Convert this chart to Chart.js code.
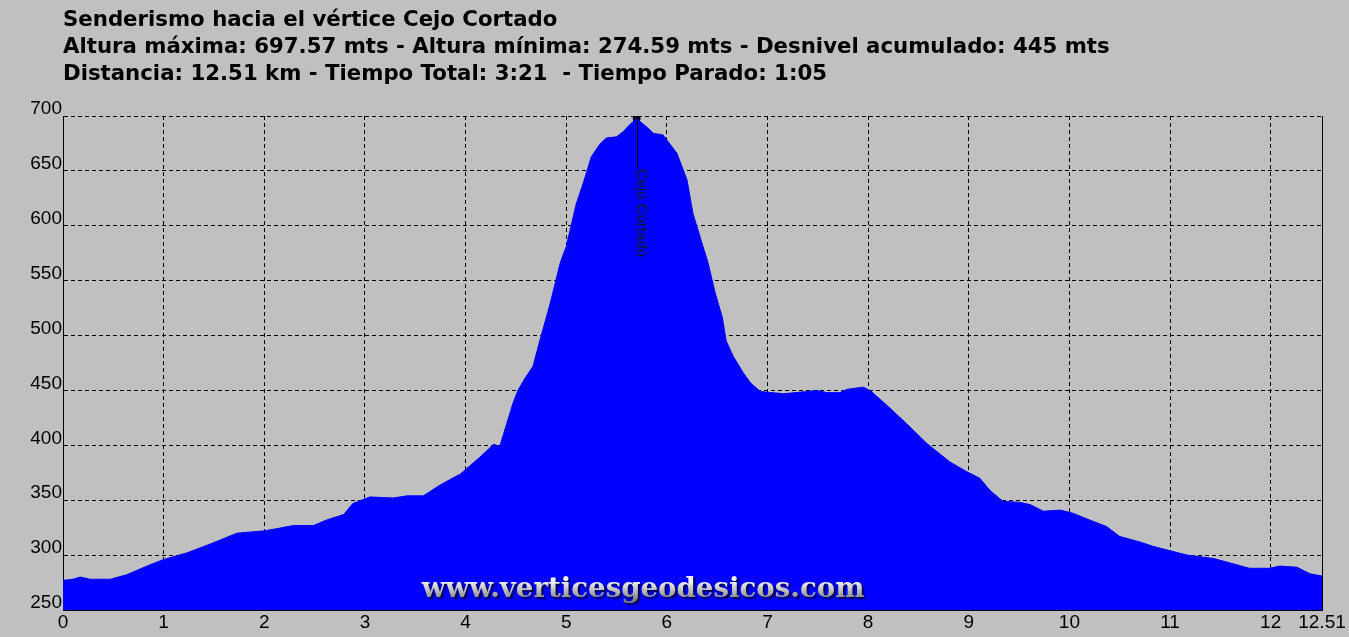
<!DOCTYPE html>
<html lang="es">
<head>
<meta charset="utf-8">
<title>Senderismo hacia el vértice Cejo Cortado</title>
<script src="https://cdn.jsdelivr.net/npm/chart.js"></script>
<style>
  html, body { margin: 0; padding: 0; background: #c0c0c0; overflow: hidden; }
  #perfil { display: block; }
</style>
</head>
<body>
<canvas id="perfil" width="1349" height="637"></canvas>
<script>
// Datos del perfil (distancia en km, altura en m)
const distancias = [
    0.00, 0.10, 0.17, 0.27, 0.47, 0.63, 0.86, 1.00, 1.23, 1.46,
    1.73, 1.99, 2.12, 2.29, 2.49, 2.62, 2.79, 2.88, 3.05, 3.28,
    3.42, 3.58, 3.75, 3.95, 4.14, 4.28, 4.34, 4.47, 4.52, 4.59,
    4.67, 4.74, 4.84, 4.94, 5.00, 5.10, 5.17, 5.25, 5.34, 5.40,
    5.50, 5.57, 5.63, 5.70, 5.80, 5.87, 5.96, 6.01, 6.10, 6.20,
    6.26, 6.33, 6.41, 6.48, 6.55, 6.59, 6.66, 6.76, 6.83, 6.93,
    7.16, 7.39, 7.49, 7.59, 7.72, 7.79, 7.95, 8.02, 8.18, 8.38,
    8.58, 8.81, 8.98, 9.11, 9.21, 9.34, 9.51, 9.61, 9.74, 9.91,
    10.04, 10.20, 10.37, 10.50, 10.70, 10.83, 11.00, 11.17, 11.43, 11.63,
    11.79, 11.99, 12.09, 12.26, 12.39, 12.51
];
const alturas = [
    277, 278, 280, 278, 278, 282, 291, 296, 302, 310,
    320, 322, 324, 327, 327, 332, 337, 347, 353, 352,
    354, 354, 364, 374, 389, 401, 399, 438, 450, 461,
    472, 496, 529, 566, 581, 620, 639, 663, 675, 680,
    681, 686, 692, 697.57, 690, 684, 683, 677, 666, 642,
    611, 590, 566, 539, 517, 495, 481, 466, 457, 449,
    447, 449, 450, 448, 448, 451, 453, 450, 437, 420,
    402, 385, 376, 370, 359, 349, 348, 346, 340, 341,
    338, 332, 326, 317, 312, 308, 304, 300, 297, 292,
    288, 288, 290, 289, 283, 281
];

// Marcas de los ejes
const ticksDistancia = [0, 1, 2, 3, 4, 5, 6, 7, 8, 9, 10, 11, 12, 12.51];
const ticksAltura = [250, 300, 350, 400, 450, 500, 550, 600, 650, 700];

// Cumbre marcada en el perfil
const cumbreNombre = 'Cejo Cortado';
const cumbreDistancia = 5.70;
const cumbreAltura = 697.57;

// Textos de cabecera y marca de agua
const lineasTitulo = [
    'Senderismo hacia el vértice Cejo Cortado',
    'Altura máxima: 697.57 mts - Altura mínima: 274.59 mts - Desnivel acumulado: 445 mts',
    'Distancia: 12.51 km - Tiempo Total: 3:21  - Tiempo Parado: 1:05'
];
const marcaAgua = 'www.verticesgeodesicos.com';

document.addEventListener('DOMContentLoaded', function() {
    const FUENTE_EJES = '"Liberation Sans", Arial, sans-serif';
    const FONDO = '#c0c0c0';
    const AZUL = '#0000ff';

    // Fondo, borde derecho, cumbre, cabecera y marca de agua
    const decoracion = {
        id: 'decoracion',
        beforeDraw(chart) {
            const ctx = chart.ctx;
            ctx.save();
            ctx.fillStyle = FONDO;
            ctx.fillRect(0, 0, chart.width, chart.height);
            ctx.restore();
        },
        afterDraw(chart) {
            const { ctx, chartArea: area, scales } = chart;
            ctx.save();

            // borde derecho continuo
            ctx.strokeStyle = '#000';
            ctx.lineWidth = 1;
            ctx.beginPath();
            ctx.moveTo(Math.round(area.right) + 0.5, area.top);
            ctx.lineTo(Math.round(area.right) + 0.5, area.bottom);
            ctx.stroke();

            // línea y rótulo vertical de la cumbre
            const cx = Math.round(scales.x.getPixelForValue(cumbreDistancia)) + 0.5;
            const cy = scales.y.getPixelForValue(cumbreAltura);
            ctx.beginPath();
            ctx.moveTo(cx, cy);
            ctx.lineTo(cx, cy + 50);
            ctx.stroke();
            ctx.save();
            ctx.translate(cx - 1, cy + 50);
            ctx.rotate(Math.PI / 2);
            ctx.fillStyle = '#1a1a1a';
            ctx.font = '15px ' + FUENTE_EJES;
            ctx.textAlign = 'left';
            ctx.textBaseline = 'alphabetic';
            ctx.fillText(cumbreNombre, 0, 0);
            ctx.restore();

            // cabecera en tres líneas, ajustada al ancho del original
            ctx.font = 'bold 20px "DejaVu Sans", Verdana, sans-serif';
            const escala = 1047 / ctx.measureText(lineasTitulo[1]).width;
            const tam = Math.min(22, 20 * escala);
            ctx.font = 'bold ' + tam.toFixed(2) + 'px "DejaVu Sans", Verdana, sans-serif';
            ctx.fillStyle = '#000';
            ctx.textAlign = 'left';
            ctx.textBaseline = 'alphabetic';
            lineasTitulo.forEach((linea, i) => {
                ctx.fillText(linea, area.left, 26 + i * 27);
            });

            // marca de agua plateada con sombra
            ctx.font = 'bold 24px "DejaVu Serif", Georgia, serif';
            const anchoMarca = ctx.measureText(marcaAgua).width;
            const tamMarca = 24 * 443 / anchoMarca;
            ctx.font = 'bold ' + tamMarca.toFixed(2) + 'px "DejaVu Serif", Georgia, serif';
            const grad = ctx.createLinearGradient(0, 582, 0, 600);
            grad.addColorStop(0, '#f0f0f0');
            grad.addColorStop(0.5, '#b8b8b8');
            grad.addColorStop(1, '#808080');
            ctx.fillStyle = grad;
            ctx.shadowColor = 'rgba(0, 0, 0, 0.75)';
            ctx.shadowOffsetX = 2;
            ctx.shadowOffsetY = 2;
            ctx.shadowBlur = 2;
            ctx.textAlign = 'center';
            ctx.fillText(marcaAgua, 643, 597);

            ctx.restore();
        }
    };

    const ejeComun = {
        z: 1,
        grid: { color: '#000', lineWidth: 1, drawTicks: false },
        border: { color: '#000', width: 1, dash: [4, 3] }
    };

    new Chart(document.getElementById('perfil'), {
        type: 'line',
        data: {
            datasets: [
                {
                    label: 'Perfil',
                    data: distancias.map((d, i) => ({ x: d, y: alturas[i] })),
                    borderColor: AZUL,
                    backgroundColor: AZUL,
                    borderWidth: 1,
                    fill: 'start',
                    pointRadius: 0,
                    tension: 0
                },
                {
                    label: cumbreNombre,
                    data: [{ x: cumbreDistancia, y: cumbreAltura }],
                    showLine: false,
                    pointRadius: 3.5,
                    pointBackgroundColor: '#000',
                    pointBorderColor: '#000'
                }
            ]
        },
        options: {
            responsive: false,
            animation: false,
            layout: { padding: { top: 116, right: 27, bottom: 0, left: 0 } },
            plugins: {
                legend: { display: false },
                tooltip: { enabled: false }
            },
            scales: {
                x: {
                    ...ejeComun,
                    type: 'linear',
                    min: 0,
                    max: 12.51,
                    afterBuildTicks: s => { s.ticks = ticksDistancia.map(v => ({ value: v })); },
                    afterFit: s => { s.height = 27; },
                    ticks: {
                        color: '#000',
                        font: { family: FUENTE_EJES, size: 19 },
                        padding: 1,
                        maxRotation: 0,
                        autoSkip: false,
                        callback: v => String(v)
                    }
                },
                y: {
                    ...ejeComun,
                    type: 'linear',
                    min: 250,
                    max: 700,
                    afterBuildTicks: s => { s.ticks = ticksAltura.map(v => ({ value: v })); },
                    afterFit: s => { s.width = 63; },
                    ticks: {
                        color: '#000',
                        font: { family: FUENTE_EJES, size: 19 },
                        padding: 1,
                        labelOffset: -7,
                        callback: v => String(v)
                    }
                }
            }
        },
        plugins: [decoracion]
    });
});
</script>
</body>
</html>
